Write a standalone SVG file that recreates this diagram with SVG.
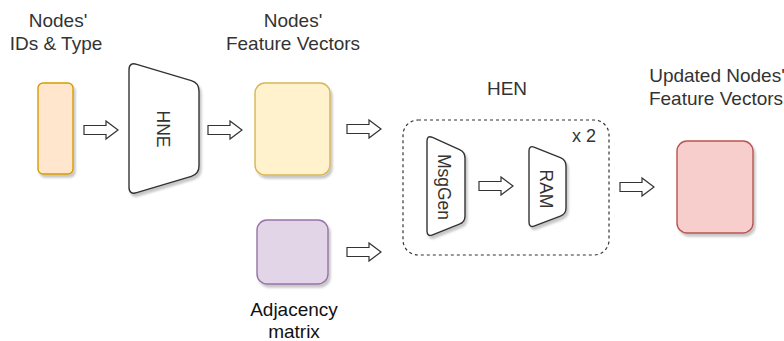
<svg xmlns="http://www.w3.org/2000/svg" width="784" height="341" viewBox="0 0 784 341">
  <defs>
    <filter id="shadow" x="-20%" y="-20%" width="150%" height="150%">
      <feDropShadow dx="2" dy="3" stdDeviation="1.2" flood-color="#000" flood-opacity="0.22"/>
    </filter>
    <!-- hollow block arrow, 35 px long, pointing right, centred on y=0 -->
    <path id="blockArrow" d="M0,-4.5 H22 V-9 L34,0 L22,9 V4.5 H0 Z"/>
  </defs>
  <style>
    text { font-family: "Liberation Sans", Arial, Helvetica, sans-serif; fill: #333; }
    .label { font-size: 19px; text-anchor: middle; }
    .inner { font-size: 17.5px; text-anchor: middle; }
    .arrow { fill: #fff; stroke: #333; stroke-width: 1.2; stroke-linejoin: miter; }
    .box { stroke-width: 1.4; filter: url(#shadow); }
    .module { fill: #fff; stroke: #333; stroke-width: 1.4; filter: url(#shadow); }
  </style>
  <rect width="784" height="341" fill="#fff"/>

  <!-- node ids and types -->
  <g id="node-ids">
    <text class="label" x="58" y="27">Nodes'</text>
    <text class="label" x="56" y="50">IDs &amp; Type</text>
    <rect class="box" x="38" y="83" width="35" height="91" rx="5" fill="#ffe6cc" stroke="#d79b00"/>
  </g>

  <!-- HNE encoder -->
  <g id="hne">
    <path class="module" d="M136.7,64.3 L191.3,80.7 Q199,83 199,91 L199,166 Q199,174 191.3,176.3 L136.7,192.7 Q129,195 129,187 L129,70 Q129,62 136.7,64.3 Z"/>
    <text class="inner" transform="translate(163,129) rotate(90)" dy="0.35em">HNE</text>
  </g>

  <!-- node feature vectors -->
  <g id="feature-vectors">
    <text class="label" x="293" y="27">Nodes'</text>
    <text class="label" x="293" y="50">Feature Vectors</text>
    <rect class="box" x="255" y="83" width="75" height="92" rx="10" fill="#fff2cc" stroke="#d6b656"/>
  </g>

  <!-- adjacency matrix -->
  <g id="adjacency">
    <rect class="box" x="257" y="220" width="71" height="64" rx="10" fill="#e1d5e7" stroke="#9673a6"/>
    <text class="label" x="294" y="316" style="fill:#111">Adjacency</text>
    <text class="label" x="294" y="338" style="fill:#111">matrix</text>
  </g>

  <!-- HEN block, repeated twice -->
  <g id="hen">
    <text class="label" x="507" y="95">HEN</text>
    <rect x="403" y="120" width="206" height="135" rx="15" fill="none" stroke="#333" stroke-width="1.2" stroke-dasharray="3,3"/>
    <text x="572" y="142" style="font-size:18px">x 2</text>
  </g>

  <g id="msggen">
    <path class="module" d="M432.5,137.45 L459.5,149.55 Q465,152 465,158 L465,216 Q465,222 459.4,224.2 L432.6,234.8 Q427,237 427,231 L427,141 Q427,135 432.5,137.45 Z"/>
    <text class="inner" transform="translate(444,187) rotate(90)" dy="0.35em">MsgGen</text>
  </g>

  <g id="ram">
    <path class="module" d="M534.6,147.3 L560.4,157.7 Q566,160 566,166 L566,208 Q566,214 560.4,216.1 L534.6,225.9 Q529,228 529,222 L529,151 Q529,145 534.6,147.3 Z"/>
    <text class="inner" transform="translate(546,189) rotate(90)" dy="0.35em">RAM</text>
  </g>

  <!-- updated node feature vectors -->
  <g id="updated-vectors">
    <text class="label" x="717" y="82">Updated Nodes'</text>
    <text class="label" x="716" y="105">Feature Vectors</text>
    <rect class="box" x="677" y="141" width="76" height="92" rx="10" fill="#f8cecc" stroke="#b85450"/>
  </g>

  <!-- connectors -->
  <g id="connectors" class="arrow">
    <use href="#blockArrow" x="84" y="130"/>
    <use href="#blockArrow" x="208" y="130"/>
    <use href="#blockArrow" x="347" y="129"/>
    <use href="#blockArrow" x="347" y="252"/>
    <use href="#blockArrow" x="479" y="186"/>
    <use href="#blockArrow" x="620" y="187"/>
  </g>
</svg>
